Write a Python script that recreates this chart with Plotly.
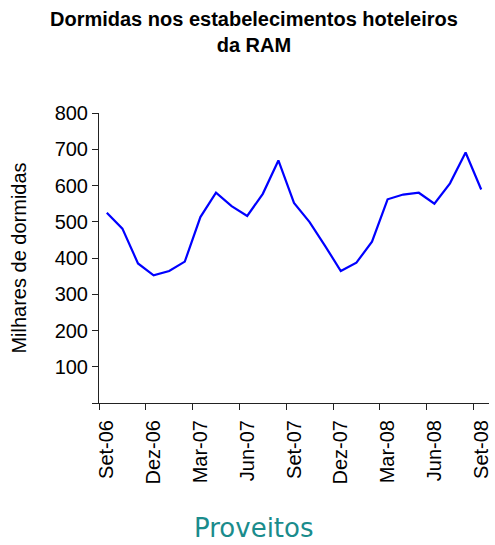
import plotly.graph_objects as go

months = ["Set-06", "Out-06", "Nov-06", "Dez-06", "Jan-07", "Fev-07", "Mar-07", "Abr-07", "Mai-07",
          "Jun-07", "Jul-07", "Ago-07", "Set-07", "Out-07", "Nov-07", "Dez-07", "Jan-08", "Fev-08",
          "Mar-08", "Abr-08", "Mai-08", "Jun-08", "Jul-08", "Ago-08", "Set-08"]
dormidas = [525, 481, 385, 352, 364, 390, 513, 580, 543, 516, 577, 669, 552, 499, 433,
            364, 387, 445, 562, 575, 580, 550, 606, 691, 589]
label_every = 3
y_ticks = [0, 100, 200, 300, 400, 500, 600, 700, 800]

xs = list(range(len(months)))
label_pos = xs[::label_every]
label_txt = [months[i] for i in label_pos]
boundaries = [p - 0.5 for p in label_pos]

fig = go.Figure()
fig.add_trace(go.Scatter(x=xs, y=dormidas, mode="lines",
                         line=dict(color="#0000FF", width=2.2), showlegend=False))

font = "Liberation Sans, Arial, sans-serif"
fig.update_layout(
    width=495, height=545,
    margin=dict(l=99, r=3, t=113, b=142),
    paper_bgcolor="white", plot_bgcolor="white",
    font=dict(family=font, size=20, color="black"),
    xaxis=dict(range=[-0.5, 24.5], tickmode="array", tickvals=label_pos, ticktext=label_txt,
               ticks="", tickangle=-90, showgrid=False, zeroline=False,
               showline=True, linecolor="#222", linewidth=1,
               tickfont=dict(size=20), ticklabelstandoff=8,
               minor=dict(tickmode="array", tickvals=boundaries, ticks="outside",
                          ticklen=6, tickcolor="#222", tickwidth=1, showgrid=False)),
    yaxis=dict(range=[0, 800], tickmode="array", tickvals=y_ticks,
               ticktext=["" if v == 0 else str(v) for v in y_ticks],
               ticks="outside", ticklen=6, tickcolor="#222", showgrid=False, zeroline=False,
               showline=True, linecolor="#222", linewidth=1, tickfont=dict(size=20),
               title=dict(text="Milhares de dormidas", font=dict(size=20), standoff=22)),
    annotations=[
        dict(text="<b>Dormidas nos estabelecimentos hoteleiros<br>da RAM</b>",
             xref="paper", yref="paper", x=0.398, y=1.37, xanchor="center", yanchor="top",
             showarrow=False, font=dict(family=font, size=20, color="black")),
        dict(text="Proveitos", xref="paper", yref="paper", x=0.398, y=-0.488,
             xanchor="center", yanchor="bottom", showarrow=False,
             font=dict(family="DejaVu Sans, Verdana, sans-serif", size=26, color="#1A8C8C")),
    ],
)

fig.write_html("out.html")
